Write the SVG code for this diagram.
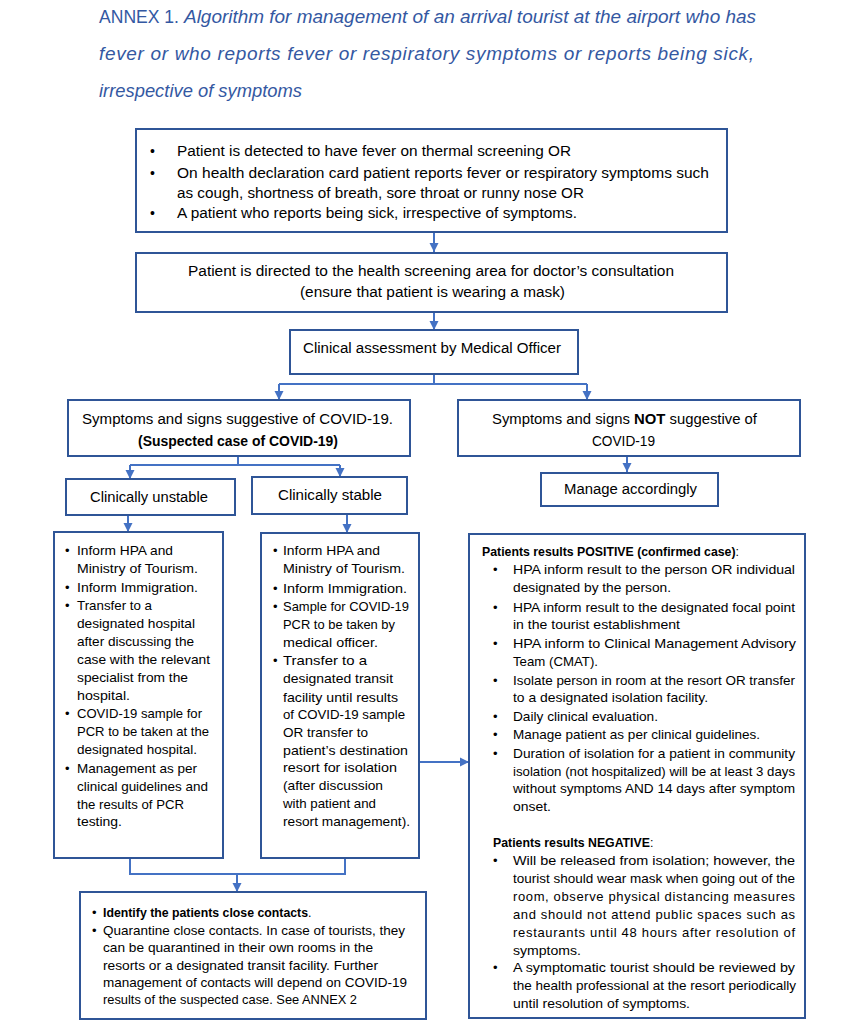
<svg xmlns="http://www.w3.org/2000/svg" width="854" height="1024" viewBox="0 0 854 1024">
<defs>
<marker id="ah" markerUnits="userSpaceOnUse" markerWidth="10" markerHeight="10" refX="9" refY="5" orient="auto">
<path d="M0,0.5 L9,5 L0,9.5 z" fill="#4472C4"/>
</marker>
<style>
.box{fill:#fff;stroke:#2F5597;stroke-width:2}
.c{fill:none;stroke:#4472C4;stroke-width:2}
.a{marker-end:url(#ah)}
text{font-family:"Liberation Sans",Arial,sans-serif;fill:#000}
.t14{font-size:14px}
.t13{font-size:13px}
.b{font-weight:bold}
.title{font-size:19px;fill:#3458A2}
.it{font-style:italic}
.hd{font-size:12.3px}
</style>
</defs>
<rect width="854" height="1024" fill="#fff"/>

<g id="title">
<text class="title" x="99" y="23" textLength="80" lengthAdjust="spacingAndGlyphs">ANNEX 1.</text>
<text class="title it" x="184" y="23" textLength="572" lengthAdjust="spacingAndGlyphs">Algorithm for management of an arrival tourist at the airport who has</text>
<text class="title it" x="99" y="60" textLength="655" lengthAdjust="spacing">fever or who reports fever or respiratory symptoms or reports being sick,</text>
<text class="title it" x="99" y="97" textLength="203" lengthAdjust="spacingAndGlyphs">irrespective of symptoms</text>
</g>

<g id="connectors">
<path class="c a" d="M434,232 V252"/>
<path class="c a" d="M434,312 V330"/>
<path class="c" d="M434,373 V384 M279,384 H587"/>
<path class="c a" d="M279,384 V400"/>
<path class="c a" d="M587,384 V400"/>
<path class="c a" d="M627,456 V472"/>
<path class="c" d="M238,456 V465 M130,465 H340"/>
<path class="c a" d="M130,465 V479"/>
<path class="c a" d="M340,465 V477"/>
<path class="c a" d="M128,515 V532"/>
<path class="c a" d="M347,514 V533"/>
<path class="c a" d="M420,762 H469"/>
<path class="c" d="M130,858 V874 H345 V858"/>
<path class="c a" d="M237,874 V892"/>
</g>

<g id="n1">
<rect class="box" x="136" y="129" width="591" height="103"/>
<text class="t14" x="150" y="156">•</text>
<text class="t14" x="177" y="156" textLength="394" lengthAdjust="spacingAndGlyphs">Patient is detected to have fever on thermal screening OR</text>
<text class="t14" x="150" y="178">•</text>
<text class="t14" x="177" y="178" textLength="532" lengthAdjust="spacingAndGlyphs">On health declaration card patient reports fever or respiratory symptoms such</text>
<text class="t14" x="177" y="198" textLength="407" lengthAdjust="spacingAndGlyphs">as cough, shortness of breath, sore throat or runny nose OR</text>
<text class="t14" x="150" y="218">•</text>
<text class="t14" x="177" y="218" textLength="400" lengthAdjust="spacingAndGlyphs">A patient who reports being sick, irrespective of symptoms.</text>
</g>

<g id="n2">
<rect class="box" x="136" y="253" width="591" height="59"/>
<text class="t14" x="188" y="276" textLength="486" lengthAdjust="spacingAndGlyphs">Patient is directed to the health screening area for doctor’s consultation</text>
<text class="t14" x="300" y="297" textLength="265" lengthAdjust="spacingAndGlyphs">(ensure that patient is wearing a mask)</text>
</g>

<g id="n3">
<rect class="box" x="290" y="330" width="288" height="44"/>
<text class="t14" x="303" y="353" textLength="258" lengthAdjust="spacingAndGlyphs">Clinical assessment by Medical Officer</text>
</g>

<g id="n4">
<rect class="box" x="68" y="400" width="342" height="56"/>
<text class="t14" x="82" y="424" textLength="311" lengthAdjust="spacingAndGlyphs">Symptoms and signs suggestive of COVID-19.</text>
<text class="t14 b" x="138" y="446" textLength="200" lengthAdjust="spacingAndGlyphs">(Suspected case of COVID-19)</text>
</g>

<g id="n5">
<rect class="box" x="458" y="400" width="342" height="56"/>
<text class="t14" x="492" y="424" textLength="265" lengthAdjust="spacingAndGlyphs">Symptoms and signs <tspan class="b">NOT</tspan> suggestive of</text>
<text class="t14" x="592" y="446" textLength="63" lengthAdjust="spacingAndGlyphs">COVID-19</text>
</g>

<g id="n6">
<rect class="box" x="541" y="473" width="177" height="33"/>
<text class="t14" x="564" y="494" textLength="133" lengthAdjust="spacingAndGlyphs">Manage accordingly</text>
</g>

<g id="n7">
<rect class="box" x="66" y="479" width="169" height="36"/>
<text class="t14" x="90" y="502" textLength="118" lengthAdjust="spacingAndGlyphs">Clinically unstable</text>
</g>

<g id="n8">
<rect class="box" x="252" y="477" width="155" height="37"/>
<text class="t14" x="278" y="500" textLength="104" lengthAdjust="spacingAndGlyphs">Clinically stable</text>
</g>

<g id="n9">
<rect class="box" x="54" y="532" width="169" height="326"/>
<g class="t13">
<text x="65" y="555">•</text><text x="77" y="555" textLength="96" lengthAdjust="spacingAndGlyphs">Inform HPA and</text>
<text x="77" y="573" textLength="121" lengthAdjust="spacingAndGlyphs">Ministry of Tourism.</text>
<text x="65" y="592">•</text><text x="77" y="592" textLength="121" lengthAdjust="spacingAndGlyphs">Inform Immigration.</text>
<text x="65" y="610">•</text><text x="77" y="610" textLength="75" lengthAdjust="spacingAndGlyphs">Transfer to a</text>
<text x="77" y="628" textLength="118" lengthAdjust="spacingAndGlyphs">designated hospital</text>
<text x="77" y="646" textLength="117" lengthAdjust="spacingAndGlyphs">after discussing the</text>
<text x="77" y="664" textLength="133" lengthAdjust="spacingAndGlyphs">case with the relevant</text>
<text x="77" y="682" textLength="111" lengthAdjust="spacingAndGlyphs">specialist from the</text>
<text x="77" y="700" textLength="53" lengthAdjust="spacingAndGlyphs">hospital.</text>
<text x="65" y="718">•</text><text x="77" y="718" textLength="125" lengthAdjust="spacingAndGlyphs">COVID-19 sample for</text>
<text x="77" y="736" textLength="132" lengthAdjust="spacingAndGlyphs">PCR to be taken at the</text>
<text x="77" y="754" textLength="120" lengthAdjust="spacingAndGlyphs">designated hospital.</text>
<text x="65" y="773">•</text><text x="77" y="773" textLength="120" lengthAdjust="spacingAndGlyphs">Management as per</text>
<text x="77" y="791" textLength="131" lengthAdjust="spacingAndGlyphs">clinical guidelines and</text>
<text x="77" y="809" textLength="107" lengthAdjust="spacingAndGlyphs">the results of PCR</text>
<text x="77" y="826" textLength="45" lengthAdjust="spacingAndGlyphs">testing.</text>
</g>
</g>

<g id="n10">
<rect class="box" x="261" y="533" width="158" height="325"/>
<g class="t13">
<text x="273" y="555">•</text><text x="283" y="555" textLength="97" lengthAdjust="spacingAndGlyphs">Inform HPA and</text>
<text x="283" y="573" textLength="122" lengthAdjust="spacingAndGlyphs">Ministry of Tourism.</text>
<text x="273" y="593">•</text><text x="283" y="593" textLength="124" lengthAdjust="spacingAndGlyphs">Inform Immigration.</text>
<text x="273" y="611">•</text><text x="283" y="611" textLength="126" lengthAdjust="spacingAndGlyphs">Sample for COVID-19</text>
<text x="283" y="629" textLength="112" lengthAdjust="spacingAndGlyphs">PCR to be taken by</text>
<text x="283" y="647" textLength="95" lengthAdjust="spacingAndGlyphs">medical officer.</text>
<text x="273" y="665">•</text><text x="283" y="665" textLength="84" lengthAdjust="spacingAndGlyphs">Transfer to a</text>
<text x="283" y="683" textLength="110" lengthAdjust="spacingAndGlyphs">designated transit</text>
<text x="283" y="702" textLength="115" lengthAdjust="spacingAndGlyphs">facility until results</text>
<text x="283" y="719" textLength="122" lengthAdjust="spacingAndGlyphs">of COVID-19 sample</text>
<text x="283" y="737" textLength="85" lengthAdjust="spacingAndGlyphs">OR transfer to</text>
<text x="283" y="755" textLength="125" lengthAdjust="spacingAndGlyphs">patient’s destination</text>
<text x="283" y="772" textLength="114" lengthAdjust="spacingAndGlyphs">resort for isolation</text>
<text x="283" y="790" textLength="100" lengthAdjust="spacingAndGlyphs">(after discussion</text>
<text x="283" y="808" textLength="93" lengthAdjust="spacingAndGlyphs">with patient and</text>
<text x="283" y="826" textLength="127" lengthAdjust="spacingAndGlyphs">resort management).</text>
</g>
</g>

<g id="n11">
<rect class="box" x="469" y="534" width="336" height="484"/>
<g class="t13">
<text class="hd" x="482" y="556"><tspan class="b">Patients results POSITIVE (confirmed case)</tspan>:</text>
<text x="493" y="574">•</text><text x="513" y="574" textLength="282" lengthAdjust="spacingAndGlyphs">HPA inform result to the person OR individual</text>
<text x="513" y="592" textLength="158" lengthAdjust="spacingAndGlyphs">designated by the person.</text>
<text x="493" y="612">•</text><text x="513" y="612" textLength="282" lengthAdjust="spacingAndGlyphs">HPA inform result to the designated focal point</text>
<text x="513" y="629" textLength="167" lengthAdjust="spacingAndGlyphs">in the tourist establishment</text>
<text x="493" y="648">•</text><text x="513" y="648" textLength="283" lengthAdjust="spacingAndGlyphs">HPA inform to Clinical Management Advisory</text>
<text x="513" y="666" textLength="85" lengthAdjust="spacingAndGlyphs">Team (CMAT).</text>
<text x="493" y="685">•</text><text x="513" y="685" textLength="282" lengthAdjust="spacingAndGlyphs">Isolate person in room at the resort OR transfer</text>
<text x="513" y="702" textLength="195" lengthAdjust="spacingAndGlyphs">to a designated isolation facility.</text>
<text x="493" y="721">•</text><text x="513" y="721" textLength="145" lengthAdjust="spacingAndGlyphs">Daily clinical evaluation.</text>
<text x="493" y="739">•</text><text x="513" y="739" textLength="247" lengthAdjust="spacingAndGlyphs">Manage patient as per clinical guidelines.</text>
<text x="493" y="758">•</text><text x="513" y="758" textLength="282" lengthAdjust="spacingAndGlyphs">Duration of isolation for a patient in community</text>
<text x="513" y="776" textLength="282" lengthAdjust="spacingAndGlyphs">isolation (not hospitalized) will be at least 3 days</text>
<text x="513" y="793" textLength="282" lengthAdjust="spacingAndGlyphs">without symptoms AND 14 days after symptom</text>
<text x="513" y="811" textLength="38" lengthAdjust="spacingAndGlyphs">onset.</text>
<text class="hd" x="493" y="847"><tspan class="b">Patients results NEGATIVE</tspan>:</text>
<text x="493" y="865">•</text><text x="513" y="865" textLength="282" lengthAdjust="spacingAndGlyphs">Will be released from isolation; however, the</text>
<text x="513" y="883" textLength="282" lengthAdjust="spacingAndGlyphs">tourist should wear mask when going out of the</text>
<text x="513" y="901" textLength="282" lengthAdjust="spacing">room, observe physical distancing measures</text>
<text x="513" y="919" textLength="282" lengthAdjust="spacing">and should not attend public spaces such as</text>
<text x="513" y="937" textLength="282" lengthAdjust="spacing">restaurants until 48 hours after resolution of</text>
<text x="513" y="955" textLength="68" lengthAdjust="spacingAndGlyphs">symptoms.</text>
<text x="493" y="972">•</text><text x="513" y="972" textLength="282" lengthAdjust="spacingAndGlyphs">A symptomatic tourist should be reviewed by</text>
<text x="513" y="990" textLength="283" lengthAdjust="spacingAndGlyphs">the health professional at the resort periodically</text>
<text x="513" y="1008" textLength="177" lengthAdjust="spacingAndGlyphs">until resolution of symptoms.</text>
</g>
</g>

<g id="n12">
<rect class="box" x="80" y="892" width="346" height="127"/>
<g class="t13">
<text x="92" y="917">•</text><text class="hd" x="103" y="917"><tspan class="b">Identify the patients close contacts</tspan>.</text>
<text x="92" y="935">•</text><text x="103" y="935" textLength="302" lengthAdjust="spacingAndGlyphs">Quarantine close contacts. In case of tourists, they</text>
<text x="103" y="952" textLength="270" lengthAdjust="spacingAndGlyphs">can be quarantined in their own rooms in the</text>
<text x="103" y="970" textLength="275" lengthAdjust="spacingAndGlyphs">resorts or a designated transit facility. Further</text>
<text x="103" y="987" textLength="304" lengthAdjust="spacingAndGlyphs">management of contacts will depend on COVID-19</text>
<text x="103" y="1004" textLength="254" lengthAdjust="spacingAndGlyphs">results of the suspected case. See ANNEX 2</text>
</g>
</g>
</svg>
